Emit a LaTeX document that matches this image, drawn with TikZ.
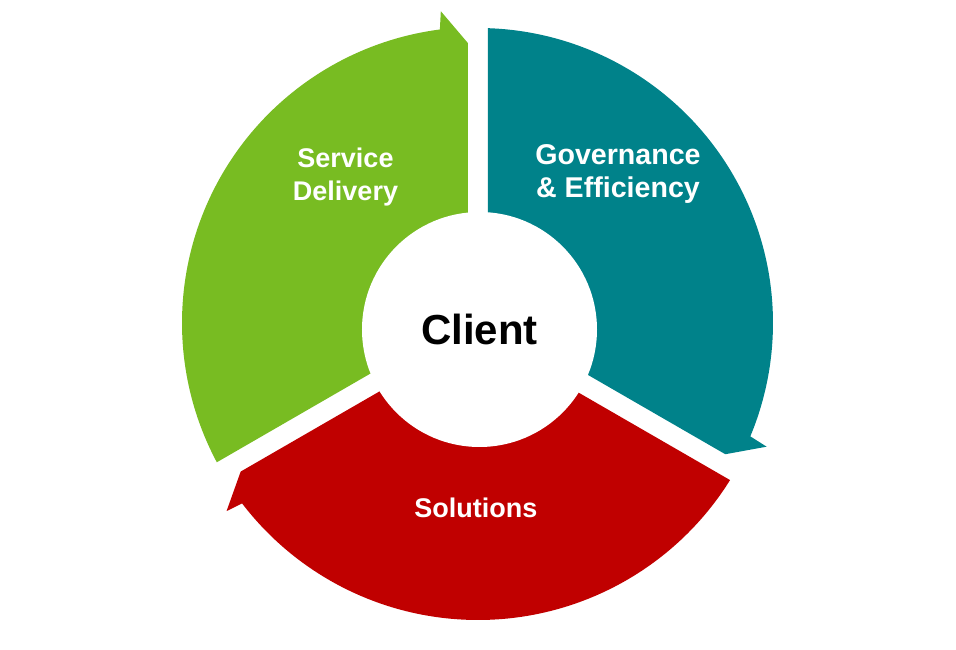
\documentclass[tikz,border=0pt]{standalone}
\usepackage{fontspec}
\setmainfont{Liberation Sans}
\definecolor{cgreen}{RGB}{120,188,34}
\definecolor{cteal}{RGB}{0,130,138}
\definecolor{cred}{RGB}{192,0,0}
\begin{document}
\begin{tikzpicture}[
  lbl/.style={text=white, font=\bfseries\fontsize{27}{33.4}\selectfont, align=center, inner sep=0pt},
  hub/.style={circle, fill=white, minimum size=235pt, inner sep=0pt, text=black, font=\bfseries\fontsize{42}{50}\selectfont}
]
\useasboundingbox (-478pt,-327pt) rectangle (478pt,323pt);
% Service Delivery (green)
\fill[cgreen] (150:11.55pt) -- (208.07:296pt) arc[start angle=208.07, end angle=97.4, radius=296pt]
  -- (96.8:314pt) -- (92.05:280pt) -- cycle;
% Governance & Efficiency (teal)
\fill[cteal] (30:11.55pt) -- (88.07:295pt) arc[start angle=88.07, end angle=-22.6, radius=295pt]
  -- (-23.2:314pt) -- (-27.95:280pt) -- cycle;
% Solutions (red)
\fill[cred] (270:11.55pt) -- (328.07:297pt) arc[start angle=328.07, end angle=217.4, radius=297pt]
  -- (216.8:314pt) -- (212.05:280pt) -- cycle;
% hub
\node[hub] (client) at (1.5pt,-6.5pt) {Client};
% labels
\node[lbl] (service) at (-132.5pt,145.7pt) {Service\\Delivery};
\node[lbl, font=\bfseries\fontsize{28.6}{33.4}\selectfont] (governance) at (140pt,148.8pt) {Governance\\\& Efficiency};
\node[lbl] (solutions) at (-2.2pt,-184.8pt) {Solutions};
\end{tikzpicture}
\end{document}
